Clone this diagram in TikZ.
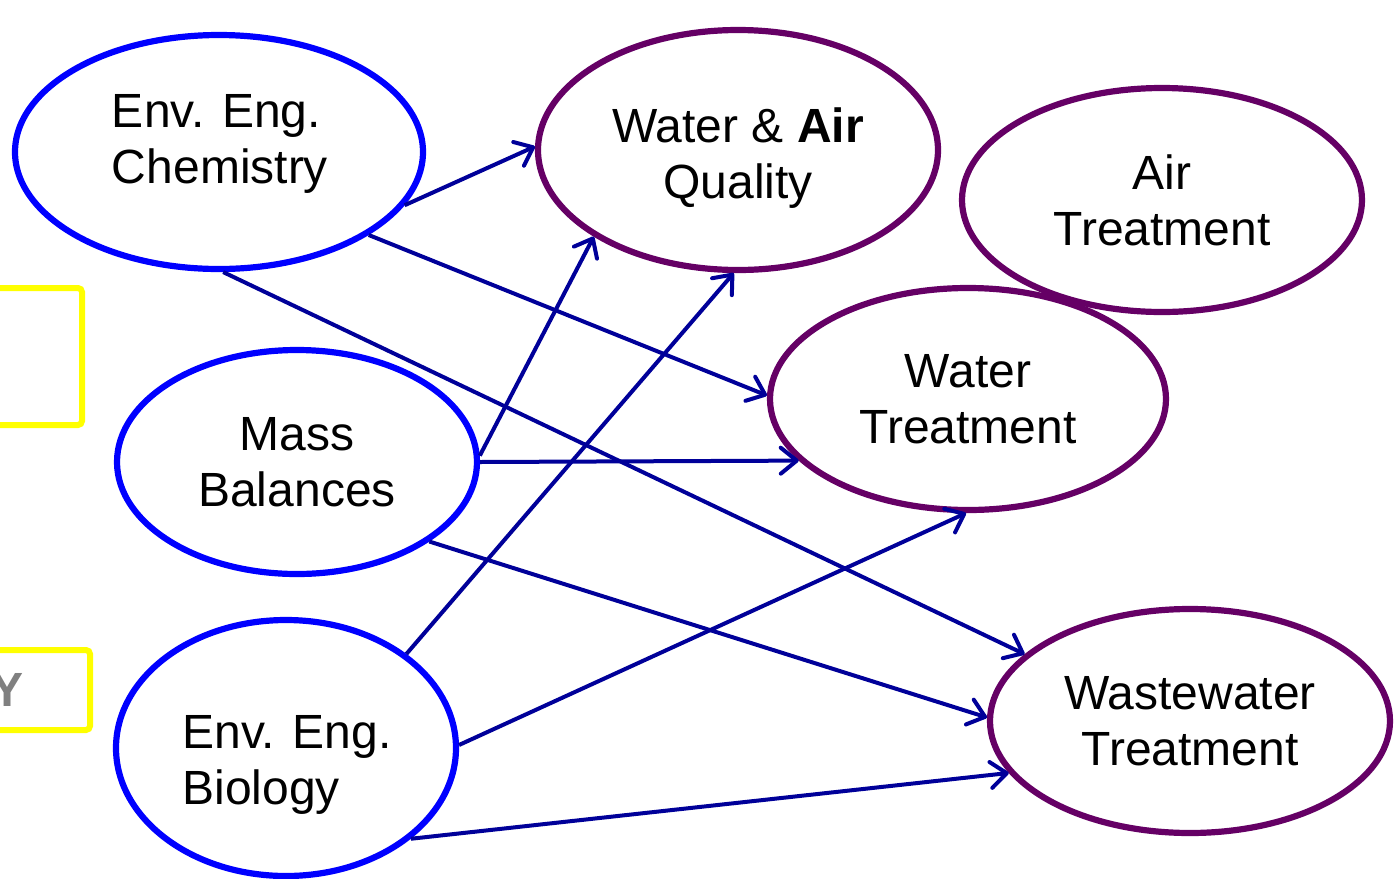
\documentclass[tikz,border=0pt]{standalone}
\usepackage{fontspec}
\setmainfont{Liberation Sans}
\usetikzlibrary{shapes.geometric,arrows.meta,shadows}
\definecolor{bluering}{HTML}{0000FF}
\definecolor{purplering}{HTML}{650065}
\definecolor{navyline}{HTML}{000099}
\definecolor{yellowbox}{HTML}{FFFF00}
\definecolor{grayY}{HTML}{808080}
\tikzset{
  ell/.style={ellipse, draw, line width=3.1pt, fill=white, inner sep=0pt,
    font=\fontsize{24}{28}\selectfont,
    drop shadow={opacity=0.18, shadow xshift=1.2pt, shadow yshift=-1.2pt}},
  srcell/.style={ell, draw=bluering},
  dstell/.style={ell, draw=purplering},
  txt/.style={font=\fontsize{24}{28}\selectfont, inner sep=0pt},
  link/.style={draw=navyline, line width=2pt,
    -{Straight Barb[length=8pt,width=13pt,round]}},
  ybox/.style={draw=yellowbox, line width=3pt, rounded corners=2pt}
}
\begin{document}
\begin{tikzpicture}[x=0.5pt,y=-0.5pt]
\useasboundingbox (0,0) rectangle (1394,879);
% yellow boxes
\draw[ybox] (-20,288) rectangle (82,425);
\draw[ybox] (-20,650) rectangle (90,730);
\node[anchor=east, inner sep=0pt, text=grayY, font=\fontsize{24}{28}\selectfont\bfseries] (ytext) at (24,690) {Y};
% nodes
\node[srcell, minimum width=204pt, minimum height=117pt] (chem) at (219,152) {};
\node[txt, align=left] (chemtext) at (220,144) {Env. Eng.\\Chemistry};
\node[dstell, minimum width=200pt, minimum height=120pt] (waq) at (738,150) {};
\node[txt, align=center] (waqtext) at (738,158) {Water \& \textbf{Air}\\Quality};
\node[dstell, minimum width=200pt, minimum height=112pt, align=center] (airt) at (1162,200) {Air\\Treatment};
\node[dstell, minimum width=198pt, minimum height=111pt, align=center] (watt) at (968,399) {Water\\Treatment};
\node[srcell, minimum width=180pt, minimum height=112pt, align=center] (mass) at (297,462) {Mass\\Balances};
\node[srcell, minimum width=170pt, minimum height=128pt] (bio) at (286,748) {};
\node[txt, align=left] (biotext) at (287,765) {Env. Eng.\\Biology};
\node[dstell, minimum width=200pt, minimum height=112pt, align=center] (wwt) at (1190,721) {Wastewater\\Treatment};
% connectors
\draw[link] (chem.-16.5) -- (waq.179.4);
\draw[link] (chem.-29.8) -- (watt.179.4);
\draw[link] (chem.-88.5) -- (wwt.158.3);
\draw[link] (mass.2.2) -- (waq.211);
\draw[link] (mass.0.6) -- (watt.200);
\draw[link] (mass.-31) -- (wwt.179.1);
\draw[link] (bio.38.5) -- (waq.-92.4);
\draw[link] (bio.1) -- (watt.-91.5);
\draw[link] (bio.-36.6) -- (wwt.196);
\end{tikzpicture}
\end{document}
